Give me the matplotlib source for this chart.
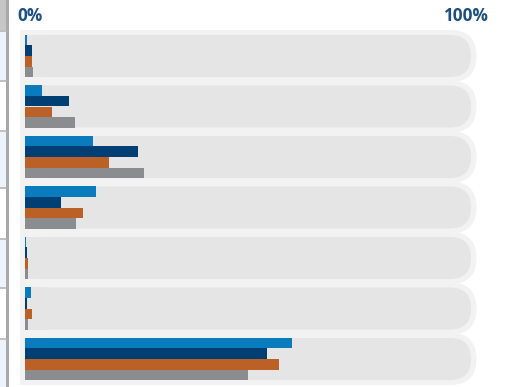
import matplotlib
matplotlib.use("Agg")
import matplotlib.pyplot as plt
from matplotlib.patches import Rectangle, FancyBboxPatch
import numpy as np

# ---- data (percent) ----
rows = ["R1", "R2", "R3", "R4", "R5", "R6", "R7"]
series_blue = [0.4, 3.8, 15.2, 16.0, 0.2, 1.3, 59.9]
series_navy = [1.6, 9.9, 25.3, 8.1, 0.4, 0.4, 54.3]
series_orange = [1.6, 6.1, 18.8, 13.0, 0.7, 1.6, 57.0]
series_gray = [1.8, 11.2, 26.7, 11.4, 0.7, 0.7, 50.0]
axis_labels = ["0%", "100%"]

colors = ["#0a7bbd", "#003f73", "#bb6128", "#8a8c8f"]
series = [series_blue, series_navy, series_orange, series_gray]

W, H = 505, 387
fig = plt.figure(figsize=(W / 100, H / 100), dpi=100)
fig.patch.set_facecolor("white")

# background axes in pixel coordinates
bg = fig.add_axes([0, 0, 1, 1])
bg.set_xlim(0, W)
bg.set_ylim(H, 0)
bg.axis("off")

# main axes: x 0..100 -> px 25..471 ; rows pitch 50.5 px
x0, x1 = 25, 471
ytop, ybot = 30.75, 384.25
ax = fig.add_axes([x0 / W, 1 - ybot / H, (x1 - x0) / W, (ybot - ytop) / H])
ax.set_xlim(0, 100)
n = len(rows)
ax.set_ylim(n - 0.5, -0.5)
ax.axis("off")
ax.patch.set_alpha(0)

# left strip decoration
bg.add_patch(Rectangle((0, 0), 7, 30, color="#c6c6c6", lw=0))
bands = [(31, 80, "#eef3fb"), (132, 187, "#eef3fb"), (240, 287, "#eef3fb"), (340, 387, "#eef3fb")]
for a, b, c in bands:
    bg.add_patch(Rectangle((0, a), 7, b - a, color=c, lw=0))
for yl in [30.5, 81, 131, 188, 239, 288, 339]:
    bg.plot([0, 7], [yl, yl], color="#b4b4b4", lw=1.2, solid_capstyle="butt")
bg.add_patch(Rectangle((6.3, 0), 2.2, H, color="#a9a9a9", lw=0))

# capsules, positioned from the main axes scale
fig.canvas.draw()
def to_px(xd, yd):
    X, Y = ax.transData.transform((xd, yd))
    return X, H - Y

pitch = to_px(0, 1)[1] - to_px(0, 0)[1]
px_left, _ = to_px(0, 0)
px_right, _ = to_px(100, 0)
inner_half = pitch * 0.416
outer_half = inner_half + 5

def capsule(left, right, cy, half, color):
    h = 2 * half
    bg.add_patch(FancyBboxPatch((left, cy - half), right - left, h,
                                boxstyle=f"round,pad=0,rounding_size={half}",
                                fc=color, ec="none", lw=0))
    bg.add_patch(Rectangle((left, cy - half), half + 1, h, fc=color, ec="none", lw=0))

for i in range(n):
    _, cy = to_px(0, i)
    capsule(px_left - 5, px_right + 5.5, cy, outer_half, "#f2f2f2")
for i in range(n):
    _, cy = to_px(0, i)
    capsule(px_left, px_right, cy, inner_half, "#e5e5e5")

# bars
bh = 0.208
y = np.arange(n)
for k, (vals, c) in enumerate(zip(series, colors)):
    ax.barh(y + (k - 1.5) * bh, vals, height=bh, color=c, lw=0)

# header labels
tc = "#1d4f80"
bg.text(17, 16, axis_labels[0], ha="left", va="center", fontsize=12.3,
        fontweight="bold", color=tc, family="Open Sans")
bg.text(488, 16, axis_labels[1], ha="right", va="center", fontsize=12.3,
        fontweight="bold", color=tc, family="Open Sans")

fig.savefig("out.png", dpi=100)
